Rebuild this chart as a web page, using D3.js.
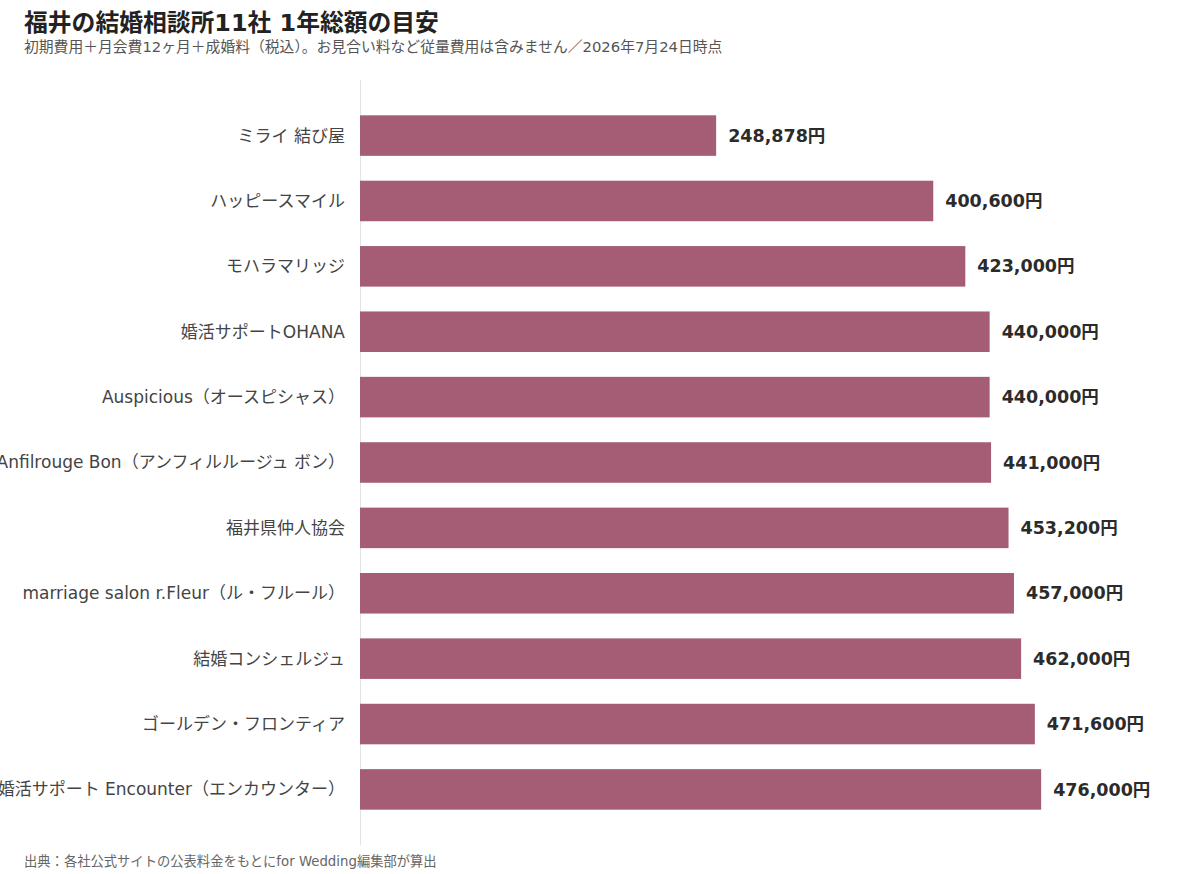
<!DOCTYPE html>
<html><head><meta charset="utf-8">
<script src="https://cdn.jsdelivr.net/npm/d3@7"></script>
<style>
html,body{margin:0;padding:0;background:#fff;}
svg{display:block;font-family:"DejaVu Sans","Noto Sans CJK JP",sans-serif;}
</style></head>
<body>
<svg id="chart" width="1200" height="874"></svg>
<script>
const categories = [
  "ミライ 結び屋",
  "ハッピースマイル",
  "モハラマリッジ",
  "婚活サポートOHANA",
  "Auspicious（オースピシャス）",
  "Anfilrouge Bon（アンフィルルージュ ボン）",
  "福井県仲人協会",
  "marriage salon r.Fleur（ル・フルール）",
  "結婚コンシェルジュ",
  "ゴールデン・フロンティア",
  "婚活サポート Encounter（エンカウンター）"
];
const values = [248878, 400600, 423000, 440000, 440000, 441000, 453200, 457000, 462000, 471600, 476000];
const titleText = "福井の結婚相談所11社 1年総額の目安";
const subtitleText = "初期費用＋月会費12ヶ月＋成婚料（税込）。お見合い料など従量費用は含みません／2026年7月24日時点";
const sourceText = "出典：各社公式サイトの公表料金をもとにfor Wedding編集部が算出";

const svg = d3.select("#chart");
const x0 = 360;
const x = d3.scaleLinear().domain([0, 520000]).range([x0, x0 + 520000 * 0.001431]);
const y = d3.scaleBand().domain(categories).range([80, 845]).paddingInner(0.38).paddingOuter(0.54);

svg.append("text").attr("x", 24).attr("y", 31).attr("font-size", 23.8).attr("font-weight", 700)
  .attr("fill", "#222").text(titleText);
svg.append("text").attr("x", 24).attr("y", 52).attr("font-size", 14.8)
  .attr("fill", "#555").text(subtitleText);

svg.append("line").attr("x1", x0 + 0.5).attr("x2", x0 + 0.5).attr("y1", 80).attr("y2", 845)
  .attr("stroke", "#e2e2e2").attr("stroke-width", 1);

const data = categories.map((c, i) => ({c, v: values[i]}));

svg.selectAll("rect.bar").data(data).join("rect").attr("class", "bar")
  .attr("x", x(0)).attr("y", d => y(d.c)).attr("width", d => x(d.v) - x(0))
  .attr("height", y.bandwidth()).attr("fill", "#a55d75");

svg.selectAll("text.val").data(data).join("text").attr("class", "val")
  .attr("x", d => x(d.v) + 12).attr("y", d => y(d.c) + y.bandwidth() / 2)
  .attr("dy", "0.35em").attr("font-size", 17.5).attr("font-weight", 700).attr("fill", "#2b2b2b")
  .text(d => d3.format(",")(d.v) + "円");

svg.selectAll("text.cat").data(data).join("text").attr("class", "cat")
  .attr("x", x0 - 15).attr("y", d => y(d.c) + y.bandwidth() / 2)
  .attr("dy", "0.35em").attr("text-anchor", "end").attr("font-size", 17).attr("fill", "#444")
  .text(d => d.c);

svg.append("text").attr("x", 24).attr("y", 866).attr("font-size", 13.3)
  .attr("fill", "#666").text(sourceText);
</script>
</body></html>
